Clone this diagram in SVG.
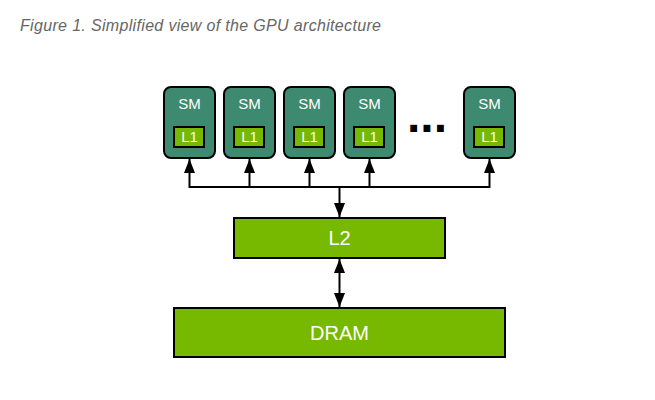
<svg xmlns="http://www.w3.org/2000/svg" width="655" height="400" viewBox="0 0 655 400">
<style>
.sm{fill:#3e8a70;stroke:#000;stroke-width:2}
.l1{fill:#76b900;stroke:#000;stroke-width:2}
.box{fill:#76b900;stroke:#000;stroke-width:2}
.t{font-family:"Liberation Sans",Arial,sans-serif;fill:#fff;text-anchor:middle}
.w{stroke:#000;stroke-width:2;fill:none}
</style>
<defs>
<marker id="ah" viewBox="0 0 14 11" refX="14" refY="5.5" markerWidth="14" markerHeight="11" markerUnits="userSpaceOnUse" orient="auto">
<path d="M0,0 L14,5.5 L0,11 Z" fill="#000"/>
</marker>
</defs>
<rect width="655" height="400" fill="#fff"/>
<text x="20" y="31" font-family="'Liberation Sans',Arial,sans-serif" font-style="italic" font-size="16" fill="#666" textLength="361">Figure 1. Simplified view of the GPU architecture</text>
<g id="sm1"><rect class="sm" x="164" y="87" width="51" height="71" rx="7"/><text class="t" x="189.5" y="109" font-size="15">SM</text><rect class="l1" x="174" y="127" width="30" height="20"/><text class="t" x="189.5" y="142" font-size="15">L1</text></g>
<g id="sm2"><rect class="sm" x="224" y="87" width="51" height="71" rx="7"/><text class="t" x="249.5" y="109" font-size="15">SM</text><rect class="l1" x="234" y="127" width="30" height="20"/><text class="t" x="249.5" y="142" font-size="15">L1</text></g>
<g id="sm3"><rect class="sm" x="284" y="87" width="51" height="71" rx="7"/><text class="t" x="309.5" y="109" font-size="15">SM</text><rect class="l1" x="294" y="127" width="30" height="20"/><text class="t" x="309.5" y="142" font-size="15">L1</text></g>
<g id="sm4"><rect class="sm" x="344" y="87" width="51" height="71" rx="7"/><text class="t" x="369.5" y="109" font-size="15">SM</text><rect class="l1" x="354" y="127" width="30" height="20"/><text class="t" x="369.5" y="142" font-size="15">L1</text></g>
<g id="dots"><text x="407" y="132" font-family="'Liberation Sans',Arial,sans-serif" font-weight="bold" font-size="48" fill="#000">...</text></g>
<g id="sm5"><rect class="sm" x="464" y="87" width="51" height="71" rx="7"/><text class="t" x="489.5" y="109" font-size="15">SM</text><rect class="l1" x="474" y="127" width="30" height="20"/><text class="t" x="489.5" y="142" font-size="15">L1</text></g>
<g id="l2"><rect class="box" x="234" y="218" width="211" height="40"/><text class="t" x="339.5" y="245" font-size="20">L2</text></g>
<g id="dram"><rect class="box" x="174" y="308" width="331" height="49"/><text class="t" x="339.5" y="340" font-size="20">DRAM</text></g>
<g id="connectors">
<path class="w" d="M189.5,187 H489.5"/>
<path class="w" d="M189.5,188 V159" marker-end="url(#ah)"/>
<path class="w" d="M249.5,188 V159" marker-end="url(#ah)"/>
<path class="w" d="M309.5,188 V159" marker-end="url(#ah)"/>
<path class="w" d="M369.5,188 V159" marker-end="url(#ah)"/>
<path class="w" d="M489.5,188 V159" marker-end="url(#ah)"/>
<path class="w" d="M339.5,187 V217" marker-end="url(#ah)"/>
<path class="w" d="M339.5,283 V259" marker-end="url(#ah)"/>
<path class="w" d="M339.5,283 V307" marker-end="url(#ah)"/>
</g>
</svg>
